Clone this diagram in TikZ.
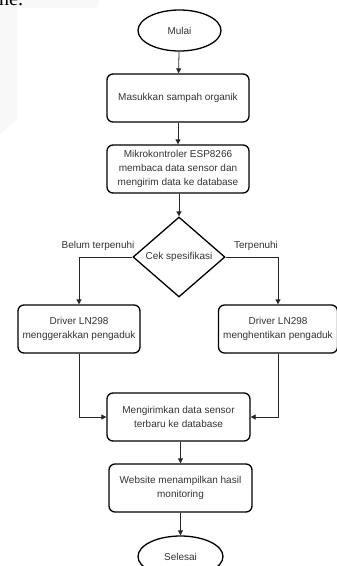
\documentclass[tikz,border=0pt]{standalone}
\usepackage{fontspec}
\setmainfont{Liberation Sans}
\newfontfamily\serifpart{Liberation Serif}
\usetikzlibrary{shapes.geometric,arrows.meta}
\definecolor{txt}{HTML}{333333}
\definecolor{faint}{HTML}{F8F8F8}
\tikzset{
  x=1pt,y=-1pt,
  box/.style={draw=black,line width=1.3pt,rounded corners=6pt,text=txt,align=center,
    font=\fontsize{10}{13.6}\selectfont,inner sep=0pt},
  term/.style={draw=black,line width=1.3pt,ellipse,text=txt,font=\fontsize{10}{12}\selectfont,inner sep=0pt},
  dec/.style={draw=black,line width=1.3pt,diamond,text=txt,font=\fontsize{10}{12}\selectfont,inner sep=0pt},
  flow/.style={draw=black!85,line width=0.8pt,-{Triangle[length=5pt,width=5pt]}},
  lbl/.style={text=txt,font=\fontsize{10}{12}\selectfont,inner sep=0pt}
}
\begin{document}
\begin{tikzpicture}
\useasboundingbox (0,0) rectangle (337,566);
\clip (0,0) rectangle (337,566);
\fill[faint] (0,0) -- (100,0) -- (96,8) -- (17,8) -- (17,120) -- (0,134) -- cycle;
\node[anchor=base west,inner sep=0pt,font=\serifpart\fontsize{20}{20}\selectfont,text=black] (ne) at (-1,5) {ne.};

\node[term,minimum width=83pt,minimum height=41pt] (mulai) at (179.5,30.5) {Mulai};
\node[box,minimum width=142pt,minimum height=48pt] (b1) at (178,98) {Masukkan sampah organik};
\node[box,minimum width=142pt,minimum height=48pt] (b2) at (178,169) {Mikrokontroler ESP8266\\membaca data sensor dan\\mengirim data ke database};
\node[dec,minimum width=92pt,minimum height=80pt] (cek) at (179,257) {Cek spesifikasi};
\node[box,minimum width=122pt,minimum height=48pt] (left) at (79,329) {Driver LN298\\menggerakkan pengaduk};
\node[box,minimum width=119pt,minimum height=48pt] (right) at (278,329) {Driver LN298\\menghentikan pengaduk};
\node[box,minimum width=143pt,minimum height=48pt] (b3) at (178.5,417) {Mengirimkan data sensor\\terbaru ke database};
\node[box,minimum width=143pt,minimum height=48pt] (b4) at (180.5,488) {Website menampilkan hasil\\monitoring};
\node[term,minimum width=85pt,minimum height=41pt] (selesai) at (180.5,556.5) {Selesai};

\node[lbl] (lb) at (98,246) {Belum terpenuhi};
\node[lbl] (lt) at (256,246) {Terpenuhi};

\draw[flow] (mulai) -- (b1);
\draw[flow] (b1) -- (b2);
\draw[flow] (b2.south -| cek.north) -- (cek.north);
\draw[flow] (cek.west) -| (left.north);
\draw[flow] (cek.east) -| (right.north);
\draw[flow] (left.south) |- (b3.west);
\draw[flow] (right.south) |- (b3.east);
\draw[flow] (b3.south -| b4.north) -- (b4.north);
\draw[flow] (b4) -- (selesai);
\end{tikzpicture}
\end{document}
